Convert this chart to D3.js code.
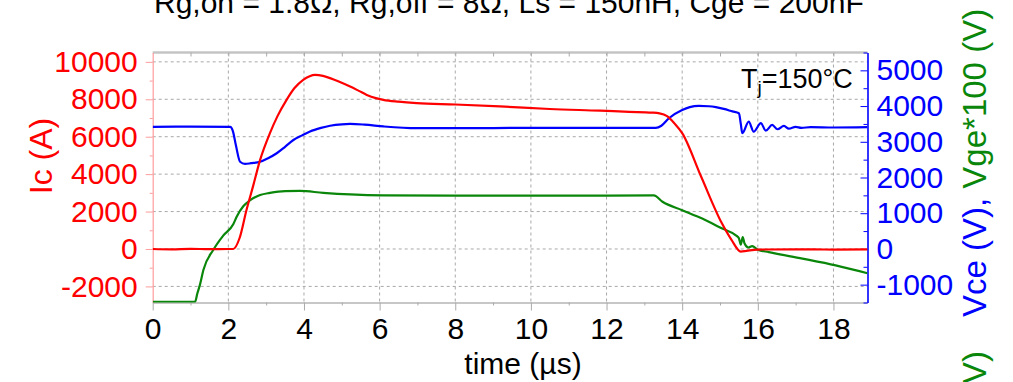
<!DOCTYPE html>
<html>
<head>
<meta charset="utf-8">
<script src="https://cdn.jsdelivr.net/npm/d3@7"></script>
<style>
  body { margin: 0; background: #fff; }
  svg { display: block; font-family: "Liberation Sans", Arial, sans-serif; }
</style>
</head>
<body>
<script>
// collector current Ic (A), left axis
const icTime = [0, 0.5, 1.0, 1.5, 2.0, 2.13, 2.3, 2.48, 2.66, 2.84, 3.1, 3.3, 3.54, 3.75, 3.98, 4.15, 4.29, 4.5, 4.69, 4.95, 5.22, 5.45, 5.66, 5.9, 6.1, 6.5, 6.98, 8, 9.18, 10.5, 11.83, 12.6, 13.2, 13.4, 13.6, 13.8, 14.0, 14.5, 15.05, 15.3, 15.55, 15.7, 16, 17, 18, 18.9];
const icVal  = [0, -20, 10, -10, 0, 0, 600, 2085, 3400, 4760, 6190, 7100, 7970, 8600, 9040, 9230, 9300, 9250, 9130, 8920, 8680, 8450, 8235, 8060, 7970, 7870, 7790, 7720, 7620, 7480, 7390, 7330, 7290, 7250, 7100, 6700, 6190, 3870, 1370, 500, -140, -100, -30, -20, -30, -20];

// collector-emitter voltage Vce (V), right axis
const vceTime = [0, 1, 2.05, 2.12, 2.2, 2.31, 2.44, 2.6, 2.84, 3.05, 3.28, 3.5, 3.72, 3.95, 4.16, 4.45, 4.69, 5.0, 5.22, 5.6, 6.1, 6.98, 8, 10, 12, 13.3, 13.45, 13.65, 14.0, 14.2, 14.44, 14.7, 14.89, 15.1, 15.33, 15.5, 15.55, 15.59, 15.76, 15.89, 16.08, 16.21, 16.38, 16.52, 16.69, 16.82, 17.0, 17.15, 17.4, 18, 18.9];
const vceVal  = [3420, 3425, 3420, 3300, 2900, 2440, 2380, 2400, 2440, 2540, 2680, 2860, 3050, 3180, 3290, 3390, 3450, 3490, 3500, 3480, 3430, 3380, 3380, 3390, 3390, 3390, 3450, 3660, 3890, 3970, 4005, 3995, 3970, 3920, 3850, 3800, 3500, 3240, 3565, 3284, 3520, 3312, 3472, 3351, 3444, 3368, 3420, 3390, 3410, 3400, 3410];

// gate voltage Vge*100 (V), right axis
const vgeTime = [0, 1.12, 1.18, 1.25, 1.34, 1.6, 1.87, 2.13, 2.22, 2.4, 2.57, 2.84, 3.1, 3.5, 3.89, 4.51, 5.22, 6.1, 8, 10, 12, 13.25, 13.48, 14.0, 14.53, 15.06, 15.42, 15.5, 15.55, 15.6, 15.65, 15.75, 15.85, 16.0, 16.29, 17.18, 18.06, 18.9];
const vgeVal  = [-1480, -1480, -1250, -1000, -590, -30, 380, 690, 900, 1200, 1360, 1510, 1570, 1620, 1625, 1570, 1525, 1500, 1495, 1495, 1495, 1500, 1320, 1085, 850, 570, 380, 300, 120, 330, 150, 40, 80, -20, -90, -270, -460, -680];

const timeTicks = [0, 2, 4, 6, 8, 10, 12, 14, 16, 18];
const timeMinor = [1, 3, 5, 7, 9, 11, 13, 15, 17];
const icTicks = [-2000, 0, 2000, 4000, 6000, 8000, 10000];
const icMinor = [-1000, 1000, 3000, 5000, 7000, 9000];
const vTicks = [-1000, 0, 1000, 2000, 3000, 4000, 5000];
const vMinor = [-1500, -500, 500, 1500, 2500, 3500, 4500, 5500];

const W = 1013, H = 382;
const margin = {top: 52.5, right: 145.5, bottom: 79.5, left: 152.7};
const width = W - margin.left - margin.right,
      height = H - margin.top - margin.bottom;

const plain = d => String(d);   // no thousands separator, ascii minus

const svg = d3.select("body").append("svg")
    .attr("width", W)
    .attr("height", H);

const g = svg.append("g")
    .attr("transform", "translate(" + margin.left + "," + margin.top + ")");

const x = d3.scaleLinear().domain([0, 18.9]).range([0, width]);
const yL = d3.scaleLinear().domain([-2860, 10500]).range([height, 0]);
const yR = d3.scaleLinear().domain([-1500, 5500]).range([height, 0]);

// dashed grid
g.selectAll(".gx").data(timeTicks.slice(1)).enter().append("line")
    .attr("x1", d => x(d)).attr("x2", d => x(d))
    .attr("y1", 0).attr("y2", height)
    .attr("stroke", "#a8a8a8").attr("stroke-dasharray", "3,3");
g.selectAll(".gy").data(icTicks).enter().append("line")
    .attr("x1", 0).attr("x2", width)
    .attr("y1", d => yL(d)).attr("y2", d => yL(d))
    .attr("stroke", "#a8a8a8").attr("stroke-dasharray", "3,3");

// top frame line + inward ticks
g.append("line").attr("x1", 0).attr("x2", width).attr("y1", 0).attr("y2", 0)
    .attr("stroke", "#c4c4c4").attr("stroke-width", 2.5);
const topAx = g.append("g")
    .call(d3.axisTop(x).tickValues(timeMinor.concat(timeTicks.slice(1))).tickSize(-4).tickFormat(""));
topAx.select(".domain").remove();
topAx.selectAll("line").attr("stroke", "#aaa");

// bottom axis
const botAx = g.append("g").attr("transform", "translate(0," + height + ")")
    .call(d3.axisBottom(x).tickValues(timeTicks).tickFormat(plain).tickSize(8).tickSizeOuter(0).tickPadding(7));
botAx.select(".domain").attr("stroke", "#b5b5b5").attr("stroke-width", 1.5);
botAx.selectAll("line").attr("stroke", "#aaa");
botAx.selectAll("text").attr("font-size", 30).attr("fill", "#000")
    .attr("font-family", "'Liberation Sans', Arial, sans-serif");
const botMin = g.append("g").attr("transform", "translate(0," + height + ")")
    .call(d3.axisBottom(x).tickValues(timeMinor).tickSize(3).tickFormat(""));
botMin.select(".domain").remove();
botMin.selectAll("line").attr("stroke", "#aaa");

// left axis (Ic)
const leftAx = g.append("g")
    .call(d3.axisLeft(yL).tickValues(icTicks).tickFormat(plain).tickSize(7).tickSizeOuter(0).tickPadding(8));
leftAx.select(".domain").attr("stroke", "#ff9c9c").attr("stroke-width", 1.2);
leftAx.selectAll("line").attr("stroke", "#ff9c9c");
leftAx.selectAll("text").attr("font-size", 30).attr("fill", "#ff0000")
    .attr("font-family", "'Liberation Sans', Arial, sans-serif");
const leftMin = g.append("g")
    .call(d3.axisLeft(yL).tickValues(icMinor).tickSize(3).tickFormat(""));
leftMin.select(".domain").remove();
leftMin.selectAll("line").attr("stroke", "#ff9c9c");

// right axis (Vce, Vge*100)
const rightAx = g.append("g").attr("transform", "translate(" + width + ",0)")
    .call(d3.axisRight(yR).tickValues(vTicks).tickFormat(plain).tickSizeInner(-7).tickSizeOuter(0).tickPadding(9));
rightAx.select(".domain").attr("stroke", "#0000ff").attr("stroke-width", 1.6);
rightAx.selectAll("line").attr("stroke", "#0000ff");
rightAx.selectAll("text").attr("font-size", 30).attr("fill", "#0000ff")
    .attr("font-family", "'Liberation Sans', Arial, sans-serif");
const rightMin = g.append("g").attr("transform", "translate(" + width + ",0)")
    .call(d3.axisRight(yR).tickValues(vMinor).tickSize(-4).tickFormat(""));
rightMin.select(".domain").remove();
rightMin.selectAll("line").attr("stroke", "#0000ff");

// traces
svg.append("clipPath").attr("id", "plotclip")
    .append("rect").attr("width", width).attr("height", height);

function trace(ts, vs, yScale, color) {
    const pts = ts.map((t, i) => [t, vs[i]]);
    g.append("path")
        .datum(pts)
        .attr("clip-path", "url(#plotclip)")
        .attr("fill", "none")
        .attr("stroke", color)
        .attr("stroke-width", 2.2)
        .attr("stroke-linejoin", "round")
        .attr("d", d3.line()
            .x(d => x(d[0]))
            .y(d => yScale(d[1]))
            .curve(d3.curveMonotoneX));
}
trace(vgeTime, vgeVal, yR, "#0a870a");
trace(vceTime, vceVal, yR, "#0000ff");
trace(icTime, icVal, yL, "#ff0000");

// title (clipped at top edge, as in the reference)
svg.append("text")
    .attr("x", 154).attr("y", 12.7)
    .attr("font-size", 30)
    .attr("fill", "#000")
    .text("Rg,on = 1.8\u03A9, Rg,off = 8\u03A9, Ls = 150nH, Cge = 200nF");

// Tj label
const tj = svg.append("text")
    .attr("x", 741).attr("y", 88.3)
    .attr("font-size", 27)
    .attr("fill", "#000");
tj.append("tspan").text("T");
tj.append("tspan").attr("font-size", 19).attr("dy", 6).text("j");
tj.append("tspan").attr("dy", -6).text("=150\u00B0C");

// x label
svg.append("text")
    .attr("x", 523).attr("y", 374)
    .attr("text-anchor", "middle")
    .attr("font-size", 30)
    .attr("fill", "#000")
    .text("time (\u00B5s)");

// left label
svg.append("text")
    .attr("transform", "translate(52,156) rotate(-90)")
    .attr("text-anchor", "middle")
    .attr("font-size", 32)
    .attr("fill", "#ff0000")
    .text("Ic (A)");

// right label, two colours
const rl = svg.append("text")
    .attr("transform", "translate(986,317) rotate(-90)")
    .attr("font-size", 33);
rl.append("tspan").attr("fill", "#0000ff").text("Vce (V), ");
rl.append("tspan").attr("fill", "#0a870a").text("Vge*100 (V)");

// green label fragment at bottom right (cut off by the edge in the reference)
svg.append("text")
    .attr("transform", "translate(986,351) rotate(-90)")
    .attr("text-anchor", "end")
    .attr("font-size", 33)
    .attr("fill", "#0a870a")
    .text("Vge (V)");
</script>
</body>
</html>
